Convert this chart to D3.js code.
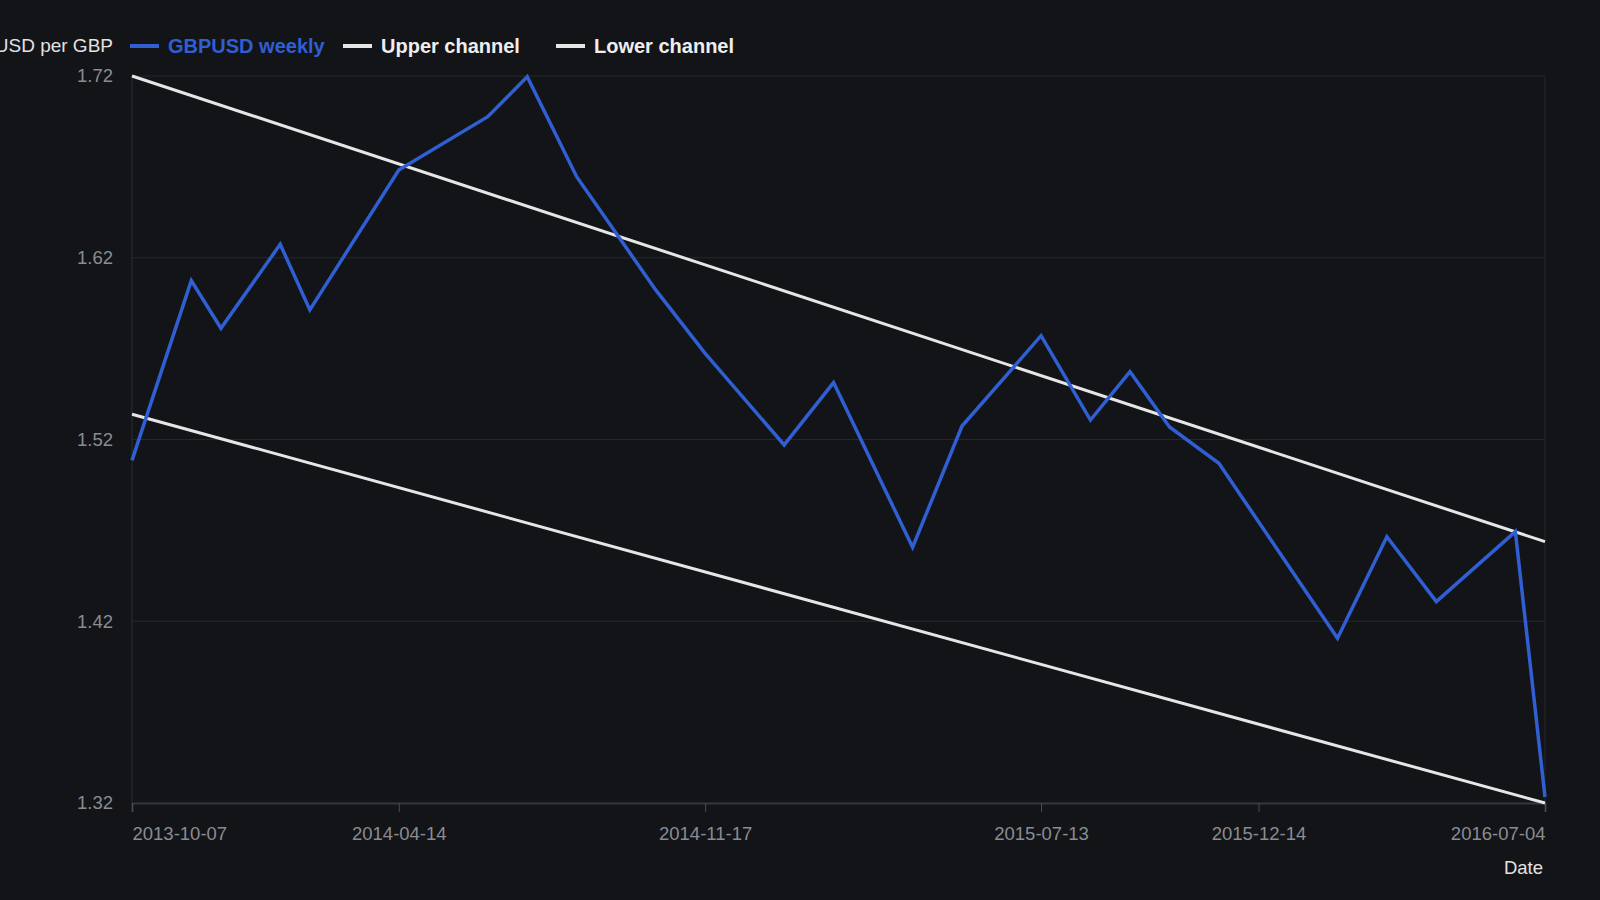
<!DOCTYPE html>
<html>
<head>
<meta charset="utf-8">
<script src="https://cdn.jsdelivr.net/npm/d3@7"></script>
<style>
  html, body { margin: 0; padding: 0; background: #131418; }
  svg { display: block; }
</style>
</head>
<body>
<svg id="chart" width="1600" height="900"></svg>
<script>
const dates = ["2013-10-07","2013-11-18","2013-12-09","2014-01-20","2014-02-10","2014-04-14",
  "2014-06-16","2014-07-14","2014-08-18","2014-10-13","2014-11-17","2015-01-12","2015-02-16",
  "2015-04-13","2015-05-18","2015-07-13","2015-08-17","2015-09-14","2015-10-12","2015-11-16",
  "2016-02-08","2016-03-14","2016-04-18","2016-06-13","2016-07-04"];
const gbpusd = [1.5085,1.6074,1.5812,1.6274,1.5913,1.6683,1.6976,1.7196,1.6646,1.6023,1.5674,1.5170,1.5513,
  1.4607,1.5274,1.5771,1.5307,1.5573,1.5269,1.5069,1.4106,1.4665,1.4308,1.4693,1.3233];
const channelDates = ["2013-10-07","2016-07-04"];
const upperChannel = [1.72, 1.4638];
const lowerChannel = [1.5339, 1.32];
const xTickLabels = ["2013-10-07","2014-04-14","2014-11-17","2015-07-13","2015-12-14","2016-07-04"];
const yTickValues = [1.32, 1.42, 1.52, 1.62, 1.72];
const seriesNames = ["GBPUSD weekly","Upper channel","Lower channel"];
const seriesColors = ["#2f5fd2","#e6e6e6","#e6e6e6"];

const parse = d3.utcParse("%Y-%m-%d");
const svg = d3.select("#chart");
const W = 1600, H = 900;
const m = {left: 132, right: 1545, top: 76, bottom: 803};

svg.append("rect").attr("width", W).attr("height", H).attr("fill", "#131418");

const x = d3.scaleUtc().domain([parse(dates[0]), parse(dates[dates.length-1])]).range([m.left, m.right]);
const y = d3.scaleLinear().domain([1.32, 1.72]).range([m.bottom, m.top]);

const font = "'Liberation Sans', Arial, Helvetica, sans-serif";

// grid
svg.append("g").selectAll("line").data(yTickValues.slice(1)).join("line")
  .attr("x1", m.left).attr("x2", m.right)
  .attr("y1", d => y(d)).attr("y2", d => y(d))
  .attr("stroke", "#25272c").attr("stroke-width", 1);
svg.append("line").attr("x1", m.left).attr("x2", m.left).attr("y1", m.top).attr("y2", m.bottom)
  .attr("stroke", "#2a2c31").attr("stroke-width", 1);
svg.append("line").attr("x1", m.right).attr("x2", m.right).attr("y1", m.top).attr("y2", m.bottom)
  .attr("stroke", "#25272c").attr("stroke-width", 1);

// y axis
const yAxis = d3.axisLeft(y).tickValues(yTickValues).tickFormat(d3.format(".2f")).tickSize(0).tickPadding(19);
const gy = svg.append("g").attr("transform", `translate(${m.left},0)`).call(yAxis);
gy.select(".domain").remove();
gy.selectAll("text").attr("fill", "#8a8c92").style("font-family", font).style("font-size", "18.5px");

// x axis
const xAxis = d3.axisBottom(x).tickValues(xTickLabels.map(parse)).tickFormat(d3.utcFormat("%Y-%m-%d"))
  .tickSize(9).tickPadding(15);
const gx = svg.append("g").attr("transform", `translate(0,${m.bottom})`).call(xAxis);
gx.select(".domain").attr("stroke", "#34363c").attr("stroke-width", 2);
gx.selectAll(".tick line").attr("stroke", "#4a4c52").attr("stroke-width", 1);
gx.selectAll("text").attr("fill", "#8a8c92").style("font-family", font).style("font-size", "18.5px");
gx.selectAll(".tick text").attr("text-anchor", (d, i, n) => i === 0 ? "start" : (i === n.length - 1 ? "end" : "middle"));

// axis titles
svg.append("text").attr("x", 1543).attr("y", 874).attr("text-anchor", "end")
  .attr("fill", "#e2e2e2").style("font-family", font).style("font-size", "18.5px").text("Date");
svg.append("text").attr("x", 113).attr("y", 52).attr("text-anchor", "end")
  .attr("fill", "#e2e2e2").style("font-family", font).style("font-size", "19px").text("USD per GBP");

// channel lines
const chLine = d3.line().x(d => x(d.date)).y(d => y(d.v));
const mk = vals => channelDates.map((d, i) => ({date: parse(d), v: vals[i]}));
svg.append("path").datum(mk(upperChannel)).attr("d", chLine)
  .attr("fill", "none").attr("stroke", seriesColors[1]).attr("stroke-width", 3);
svg.append("path").datum(mk(lowerChannel)).attr("d", chLine)
  .attr("fill", "none").attr("stroke", seriesColors[2]).attr("stroke-width", 3);

// main series
const series = dates.map((d, i) => ({date: parse(d), v: gbpusd[i]}));
svg.append("path").datum(series).attr("d", chLine)
  .attr("fill", "none").attr("stroke", seriesColors[0]).attr("stroke-width", 3.5)
  .attr("stroke-linejoin", "miter").attr("stroke-linecap", "butt");

// legend
const leg = svg.append("g").attr("transform", "translate(130,46)");
seriesNames.forEach((name, i) => {
  const g = leg.append("g").attr("transform", `translate(${i * 213},0)`);
  g.append("line").attr("x1", 0).attr("x2", 29).attr("y1", 0).attr("y2", 0)
    .attr("stroke", seriesColors[i]).attr("stroke-width", 4);
  g.append("text").attr("x", 38).attr("y", 7).attr("fill", i === 0 ? seriesColors[0] : "#eeeeee")
    .style("font-family", font).style("font-size", "20px").style("font-weight", "bold").text(name);
});
</script>
</body>
</html>
